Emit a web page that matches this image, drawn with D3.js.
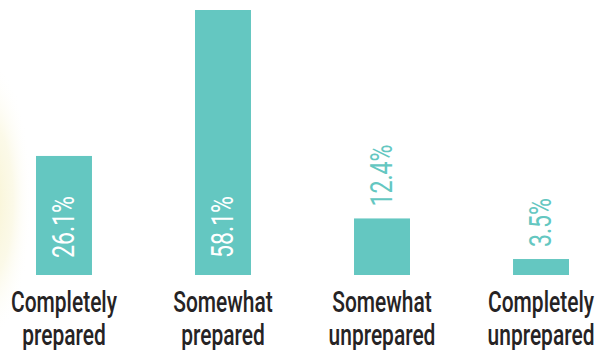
<!DOCTYPE html>
<html>
<head>
<meta charset="utf-8">
<script src="https://cdn.jsdelivr.net/npm/d3@7"></script>
<style>
  html, body { margin: 0; padding: 0; background: #fff; }
  svg { display: block; }
</style>
</head>
<body>
<div id="chart"></div>
<script>
// Data
var categories = ["Completely prepared", "Somewhat prepared", "Somewhat unprepared", "Completely unprepared"];
var labelLines = [["Completely", "prepared"], ["Somewhat", "prepared"], ["Somewhat", "unprepared"], ["Completely", "unprepared"]];
var values = [26.1, 58.1, 12.4, 3.5];

var W = 601, H = 350;
var teal = "#64c7c1";
var ink = "#262324";
var font = "Roboto, 'Noto Sans', sans-serif";

var svg = d3.select("#chart").append("svg")
  .attr("width", W)
  .attr("height", H);

// soft yellow glow at the left edge
var defs = svg.append("defs");
var grad = defs.append("radialGradient").attr("id", "glow");
grad.append("stop").attr("offset", "0%").attr("stop-color", "#f8f3cf").attr("stop-opacity", 1);
grad.append("stop").attr("offset", "55%").attr("stop-color", "#faf7df").attr("stop-opacity", 0.7);
grad.append("stop").attr("offset", "100%").attr("stop-color", "#ffffff").attr("stop-opacity", 0);
svg.append("ellipse")
  .attr("cx", -10).attr("cy", 200)
  .attr("rx", 42).attr("ry", 140)
  .attr("fill", "url(#glow)");

var baseY = 275;
var x = d3.scaleBand().domain(categories).range([36, 569]).paddingInner(0.648).paddingOuter(0);
var y = d3.scaleLinear().domain([0, 58.1]).range([baseY, 10]);

var data = categories.map(function (c, i) { return { cat: c, value: values[i], lines: labelLines[i] }; });

// measure helper: horizontal squeeze so a sample string hits a target width
function squeezeFor(sample, size, weight, target) {
  var t = svg.append("text")
    .attr("font-family", font).attr("font-size", size).attr("font-weight", weight)
    .text(sample);
  var w = t.node().getComputedTextLength();
  t.remove();
  return target / w;
}

var catSize = 29, valSize = 31;
var squeeze = squeezeFor("Completely", catSize, 500, 106);
var valSqueeze = squeezeFor("26.1%", valSize, 400, 62);

var g = svg.append("g");

g.selectAll(".bar")
  .data(data)
  .join("rect")
  .attr("class", "bar")
  .attr("x", function (d) { return x(d.cat); })
  .attr("width", x.bandwidth())
  .attr("y", function (d) { return y(d.value); })
  .attr("height", function (d) { return baseY - y(d.value); })
  .attr("fill", teal);

// Value labels (rotated): inside for tall bars, above for short bars
var insideMin = 20;
g.selectAll(".val")
  .data(data)
  .join("text")
  .attr("class", "val")
  .attr("transform", function (d) {
    var cx = x(d.cat) + x.bandwidth() / 2 + 10;
    var ty = d.value >= insideMin ? baseY - 17 : y(d.value) - 12;
    return "translate(" + cx + "," + ty + ") rotate(-90) scale(" + valSqueeze + ",1)";
  })
  .attr("text-anchor", "start")
  .attr("font-family", font)
  .attr("font-size", valSize)
  .attr("fill", function (d) { return d.value >= insideMin ? "#ffffff" : teal; })
  .text(function (d) { return d.value.toFixed(1) + "%"; });

// Category labels
var cat = g.selectAll(".cat")
  .data(data)
  .join("text")
  .attr("class", "cat")
  .attr("transform", function (d) {
    return "translate(" + (x(d.cat) + x.bandwidth() / 2) + ",312) scale(" + squeeze + ",1)";
  })
  .attr("text-anchor", "middle")
  .attr("font-family", font)
  .attr("font-size", catSize)
  .attr("font-weight", 500)
  .attr("fill", ink);

cat.selectAll("tspan")
  .data(function (d) { return d.lines; })
  .join("tspan")
  .attr("x", 0)
  .attr("y", function (d, i) { return i * 33; })
  .text(function (d) { return d; });
</script>
</body>
</html>
